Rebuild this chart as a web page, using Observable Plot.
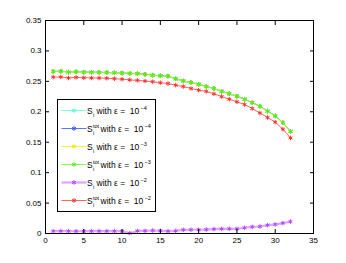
<!DOCTYPE html>
<html>
<head>
<meta charset="utf-8">
<script src="https://cdn.jsdelivr.net/npm/d3@7"></script>
<script src="https://cdn.jsdelivr.net/npm/@observablehq/plot@0.6"></script>
<style>
  html, body { margin: 0; padding: 0; background: #fff; }
  #chart { position: relative; width: 346px; height: 263px; }
  svg { font-family: "Liberation Sans", Arial, sans-serif; }
</style>
</head>
<body>
<div id="chart"></div>
<script>
// ---- data ----
const idx = [1,2,3,4,5,6,7,8,9,10,11,12,13,14,15,16,17,18,19,20,21,22,23,24,25,26,27,28,29,30,31,32];
const sI4   = [0.2665,0.2668,0.2655,0.2658,0.2653,0.2652,0.2650,0.2647,0.2642,0.2638,0.2633,0.2628,0.2618,0.2603,0.2593,0.2588,0.2543,0.2508,0.2483,0.2453,0.2418,0.2383,0.2338,0.2298,0.2258,0.2208,0.2151,0.2091,0.2013,0.1933,0.1823,0.1680];
const sTot4 = [0.2663,0.2667,0.2653,0.2657,0.2652,0.2651,0.2649,0.2646,0.2641,0.2637,0.2632,0.2627,0.2617,0.2602,0.2592,0.2587,0.2542,0.2507,0.2482,0.2452,0.2417,0.2382,0.2337,0.2297,0.2257,0.2207,0.2150,0.2090,0.2012,0.1932,0.1822,0.1679];
const sI3   = [0.2661,0.2665,0.2651,0.2655,0.2650,0.2650,0.2648,0.2645,0.2640,0.2635,0.2630,0.2625,0.2615,0.2600,0.2590,0.2585,0.2540,0.2505,0.2480,0.2450,0.2415,0.2380,0.2335,0.2295,0.2255,0.2205,0.2148,0.2088,0.2010,0.1930,0.1820,0.1676];
const sTot3 = [0.2660,0.2665,0.2650,0.2655,0.2650,0.2650,0.2648,0.2645,0.2640,0.2635,0.2630,0.2625,0.2615,0.2600,0.2590,0.2585,0.2540,0.2505,0.2480,0.2450,0.2415,0.2380,0.2335,0.2295,0.2255,0.2205,0.2148,0.2088,0.2010,0.1930,0.1820,0.1676];
const sI2   = [0.0038,0.0040,0.0038,0.0037,0.0037,0.0038,0.0038,0.0038,0.0039,0.0038,0.0005,0.0042,0.0044,0.0049,0.0044,0.0038,0.0043,0.0060,0.0062,0.0062,0.0065,0.0072,0.0075,0.0077,0.0077,0.0094,0.0110,0.0115,0.0137,0.0150,0.0170,0.0197];
const sTot2 = [0.2570,0.2572,0.2555,0.2565,0.2560,0.2555,0.2555,0.2550,0.2545,0.2535,0.2525,0.2515,0.2505,0.2495,0.2478,0.2465,0.2437,0.2415,0.2383,0.2355,0.2335,0.2295,0.2250,0.2207,0.2164,0.2120,0.2054,0.1980,0.1906,0.1830,0.1714,0.1570];

const seriesNames = ["sI4","sTot4","sI3","sTot3","sI2","sTot2"];
const seriesValues = [sI4, sTot4, sI3, sTot3, sI2, sTot2];
const eps = ["−4","−4","−3","−3","−2","−2"];
const isTot = [false, true, false, true, false, true];
const lineColors   = ["#7dffe6","#5a78ff","#f5f52a","#7cff3a","#dca6ff","#ff6262"];
const markerColors = ["#4dffd8","#3355ff","#eeee00","#55ee11","#bb44ff","#ff3030"];
const lineWidths   = [1, 1, 1, 1, 2.2, 1];

const xTicks = [0,5,10,15,20,25,30,35];
const yTicks = [0,0.05,0.1,0.15,0.2,0.25,0.3,0.35];

// ---- build table ----
const rows = [];
seriesNames.forEach((s, k) => seriesValues[k].forEach((v, j) => rows.push({series: s, k, x: idx[j], y: v})));

const lineMarks = [];
seriesNames.forEach((s, k) => {
  const d = rows.filter(r => r.series === s);
  lineMarks.push(Plot.line(d, {x: "x", y: "y", stroke: lineColors[k], strokeWidth: lineWidths[k]}));
  lineMarks.push(Plot.dot(d, {x: "x", y: "y", symbol: "asterisk", r: 2.1, stroke: markerColors[k], strokeWidth: 1}));
});

const fmt = d => String(+(+d).toFixed(2));

const chart = Plot.plot({
  width: 346,
  height: 263,
  marginLeft: 45,
  marginRight: 33,
  marginTop: 20,
  marginBottom: 30,
  style: {fontSize: "8px", fontFamily: "'Liberation Sans', Arial, sans-serif", background: "#fff", color: "#000"},
  x: {domain: [0, 35], label: null},
  y: {domain: [0, 0.35], label: null},
  marks: [
    ...lineMarks,
    Plot.axisX(xTicks, {anchor: "bottom", tickSize: -4, tickPadding: 8, tickFormat: fmt, label: null}),
    Plot.axisX(xTicks, {anchor: "top", tickSize: -4, tickFormat: () => "", label: null}),
    Plot.axisY(yTicks, {anchor: "left", tickSize: -4, tickPadding: 8, tickFormat: fmt, label: null}),
    Plot.axisY(yTicks, {anchor: "right", tickSize: -4, tickFormat: () => "", label: null}),
    Plot.frame({stroke: "#000", strokeWidth: 1})
  ]
});
document.getElementById("chart").appendChild(chart);

// ---- legend (inside the axes, drawn into the svg) ----
const svg = d3.select(chart);
const lg = svg.append("g").attr("transform", "translate(57.5,99.5)").attr("text-anchor", "start");
lg.append("rect").attr("width", 98).attr("height", 112).attr("fill", "#fff").attr("stroke", "#000").attr("stroke-width", 1);
const sym = d3.symbol(d3.symbolAsterisk, 14)();
seriesNames.forEach((s, k) => {
  const y = 11 + k * 18;
  const g = lg.append("g").attr("transform", `translate(0,${y})`);
  g.append("line").attr("x1", 4).attr("x2", 29).attr("y1", 0).attr("y2", 0)
    .attr("stroke", lineColors[k]).attr("stroke-width", lineWidths[k]);
  g.append("path").attr("d", sym).attr("transform", "translate(16.5,0)")
    .attr("stroke", markerColors[k]).attr("stroke-width", 1).attr("fill", "none");
  const t = g.append("g").attr("font-size", "8.5px").attr("fill", "#000").attr("text-anchor", "start");
  t.append("text").attr("x", 29.5).attr("y", 3).text("S");
  t.append("text").attr("x", 35.5).attr("y", 6).attr("font-size", "5.5px").text("i");
  let xw = 39;
  if (isTot[k]) {
    t.append("text").attr("x", 35.5).attr("y", -1).attr("font-size", "5.5px").text("tot");
    xw = 43;
  }
  t.append("text").attr("x", xw).attr("y", 3).text("with ε =  10").style("white-space", "pre");
  t.append("text").attr("x", xw + 44).attr("y", -1).attr("font-size", "5.5px").text(eps[k]);
});
</script>
</body>
</html>
